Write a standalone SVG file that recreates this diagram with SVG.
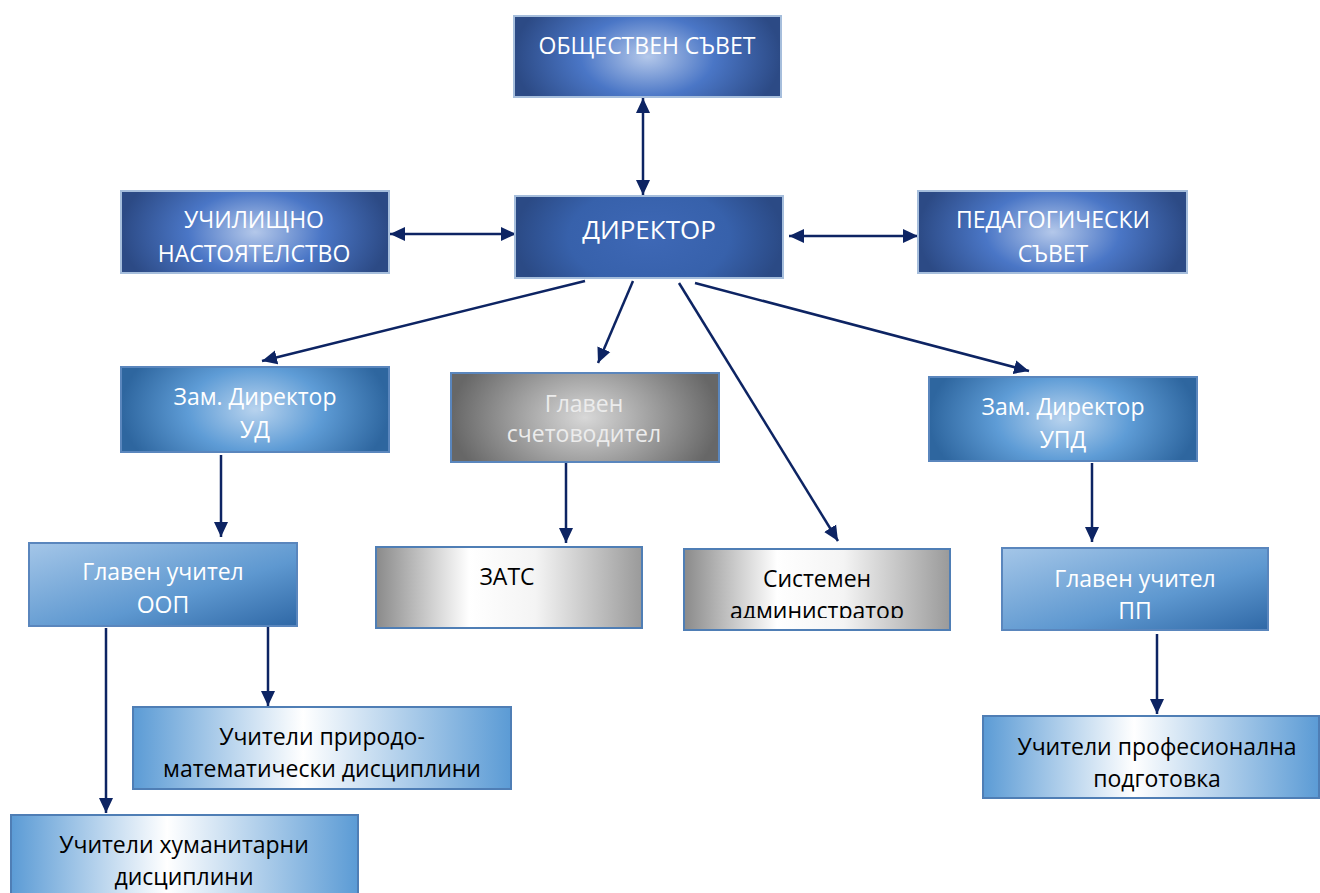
<svg xmlns="http://www.w3.org/2000/svg" width="1320" height="893" viewBox="0 0 1320 893">
<style>
text{font-family:"Open Sans","Noto Sans","Liberation Sans",sans-serif;text-anchor:middle}
.w{fill:#ffffff}
.g{fill:#ececec}
.k{fill:#000000}
.dk{stroke:#a6bedc;stroke-width:2}
.md{stroke:#5a86bd;stroke-width:2}
.gr{stroke:#4f7eb5;stroke-width:2}
.c{stroke:#0d2463;stroke-width:2.5;fill:none}
</style>
<defs>
<radialGradient id="gDark" cx="0.5" cy="0.5" r="0.5" gradientTransform="translate(0.5 0.5) scale(1 2) translate(-0.5 -0.5)">
<stop offset="0" stop-color="#b4c8ea"/>
<stop offset="0.5" stop-color="#4a76c6"/>
<stop offset="1" stop-color="#2c4a85"/>
</radialGradient>
<radialGradient id="gDir" cx="0.5" cy="0.5" r="0.5" gradientTransform="translate(0.5 0.5) scale(1 2) translate(-0.5 -0.5)">
<stop offset="0" stop-color="#3e68b6"/>
<stop offset="0.6" stop-color="#3761ab"/>
<stop offset="1" stop-color="#2b4a85"/>
</radialGradient>
<radialGradient id="gMid" cx="0.5" cy="0.5" r="0.5" gradientTransform="translate(0.5 0.5) scale(1 2) translate(-0.5 -0.5)">
<stop offset="0" stop-color="#b8d3ee"/>
<stop offset="0.5" stop-color="#5e9cd6"/>
<stop offset="1" stop-color="#2e669f"/>
</radialGradient>
<radialGradient id="gGray" cx="0.5" cy="0.5" r="0.5" gradientTransform="translate(0.5 0.5) scale(1 2) translate(-0.5 -0.5)">
<stop offset="0" stop-color="#d8d8d8"/>
<stop offset="0.5" stop-color="#a0a0a0"/>
<stop offset="1" stop-color="#676767"/>
</radialGradient>
<linearGradient id="gLead" x1="0" y1="0" x2="1" y2="1">
<stop offset="0" stop-color="#a4c6e8"/>
<stop offset="0.6" stop-color="#5e98d0"/>
<stop offset="1" stop-color="#2f68a6"/>
</linearGradient>
<linearGradient id="gTeach" x1="0" y1="0" x2="1" y2="0">
<stop offset="0" stop-color="#5b9bd5"/>
<stop offset="0.45" stop-color="#ffffff"/>
<stop offset="1" stop-color="#5b9bd5"/>
</linearGradient>
<linearGradient id="gSilver" x1="0" y1="0" x2="1" y2="0">
<stop offset="0" stop-color="#8a8a8a"/>
<stop offset="0.35" stop-color="#ffffff"/>
<stop offset="0.6" stop-color="#f4f4f4"/>
<stop offset="1" stop-color="#9a9a9a"/>
</linearGradient>
<marker id="ah" markerUnits="userSpaceOnUse" markerWidth="16" markerHeight="16" refX="15" refY="7" orient="auto-start-reverse" viewBox="0 0 16 14">
<path d="M0,0 L15,7 L0,14 Z" fill="#0d2463"/>
</marker>
<clipPath id="clipSys"><rect x="684" y="549" width="266" height="69"/></clipPath>
</defs>

<g id="connectors">
<line class="c" x1="643" y1="98" x2="643" y2="195" marker-start="url(#ah)" marker-end="url(#ah)"/>
<line class="c" x1="390" y1="234" x2="516" y2="234" marker-start="url(#ah)" marker-end="url(#ah)"/>
<line class="c" x1="789" y1="236" x2="918" y2="236" marker-start="url(#ah)" marker-end="url(#ah)"/>
<line class="c" x1="585" y1="281" x2="262" y2="361" marker-end="url(#ah)"/>
<line class="c" x1="633" y1="281" x2="598" y2="363" marker-end="url(#ah)"/>
<line class="c" x1="679" y1="283" x2="838" y2="541" marker-end="url(#ah)"/>
<line class="c" x1="695" y1="283" x2="1029" y2="371" marker-end="url(#ah)"/>
<line class="c" x1="221" y1="455" x2="221" y2="537" marker-end="url(#ah)"/>
<line class="c" x1="566" y1="462" x2="566" y2="543" marker-end="url(#ah)"/>
<line class="c" x1="1092" y1="463" x2="1092" y2="542" marker-end="url(#ah)"/>
<line class="c" x1="106" y1="628" x2="106" y2="813" marker-end="url(#ah)"/>
<line class="c" x1="268" y1="627" x2="268" y2="706" marker-end="url(#ah)"/>
<line class="c" x1="1157" y1="634" x2="1157" y2="714" marker-end="url(#ah)"/>
</g>

<g id="obshtestven-savet">
<rect class="dk" x="514" y="16" width="267" height="81" fill="url(#gDark)"/>
<text class="w" x="647" y="54" font-size="23">ОБЩЕСТВЕН СЪВЕТ</text>
</g>

<g id="direktor">
<rect class="dk" x="515" y="196" width="268" height="82" fill="url(#gDir)"/>
<text class="w" x="649" y="239" font-size="26">ДИРЕКТОР</text>
</g>

<g id="uchilishtno-nastoyatelstvo">
<rect class="dk" x="121" y="191" width="268" height="82" fill="url(#gDark)"/>
<text class="w" x="254" y="228" font-size="23">УЧИЛИЩНО</text>
<text class="w" x="254" y="262" font-size="23">НАСТОЯТЕЛСТВО</text>
</g>

<g id="pedagogicheski-savet">
<rect class="dk" x="918" y="191" width="269" height="82" fill="url(#gDark)"/>
<text class="w" x="1053" y="228" font-size="23">ПЕДАГОГИЧЕСКИ</text>
<text class="w" x="1053" y="262" font-size="23">СЪВЕТ</text>
</g>

<g id="zam-direktor-ud">
<rect class="md" x="121" y="367" width="268" height="85" fill="url(#gMid)"/>
<text class="w" x="255" y="405" font-size="23">Зам. Директор</text>
<text class="w" x="255" y="438" font-size="23">УД</text>
</g>

<g id="glaven-schetovoditel">
<rect class="md" x="451" y="373" width="268" height="89" fill="url(#gGray)"/>
<text class="g" x="584" y="412" font-size="23">Главен</text>
<text class="g" x="584" y="442" font-size="23">счетоводител</text>
</g>

<g id="zam-direktor-upd">
<rect class="md" x="929" y="377" width="268" height="84" fill="url(#gMid)"/>
<text class="w" x="1063" y="415" font-size="23">Зам. Директор</text>
<text class="w" x="1063" y="448" font-size="23">УПД</text>
</g>

<g id="glaven-uchitel-oop">
<rect class="md" x="29" y="543" width="268" height="83" fill="url(#gLead)"/>
<text class="w" x="163" y="580" font-size="23">Главен учител</text>
<text class="w" x="163" y="613" font-size="23">ООП</text>
</g>

<g id="zats">
<rect class="gr" x="376" y="547" width="266" height="81" fill="url(#gSilver)"/>
<text class="k" x="507" y="585" font-size="23">ЗАТС</text>
</g>

<g id="sistemen-administrator">
<rect class="gr" x="684" y="549" width="266" height="81" fill="url(#gSilver)"/>
<g clip-path="url(#clipSys)">
<text class="k" x="817" y="587" font-size="23">Системен</text>
<text class="k" x="817" y="619" font-size="23">администратор</text>
</g>
</g>

<g id="glaven-uchitel-pp">
<rect class="md" x="1002" y="548" width="266" height="82" fill="url(#gLead)"/>
<text class="w" x="1135" y="587" font-size="23">Главен учител</text>
<text class="w" x="1135" y="619" font-size="23">ПП</text>
</g>

<g id="uchiteli-prirodo">
<rect class="gr" x="133" y="707" width="378" height="82" fill="url(#gTeach)"/>
<text class="k" x="322" y="745" font-size="23">Учители природо-</text>
<text class="k" x="322" y="777" font-size="23">математически дисциплини</text>
</g>

<g id="uchiteli-humanitarni">
<rect class="gr" x="11" y="815" width="347" height="90" fill="url(#gTeach)"/>
<text class="k" x="184" y="853" font-size="23">Учители хуманитарни</text>
<text class="k" x="184" y="885" font-size="23">дисциплини</text>
</g>

<g id="uchiteli-profesionalna">
<rect class="gr" x="983" y="716" width="336" height="82" fill="url(#gTeach)"/>
<text class="k" x="1157" y="755" font-size="23">Учители професионална</text>
<text class="k" x="1157" y="787" font-size="23">подготовка</text>
</g>
</svg>
